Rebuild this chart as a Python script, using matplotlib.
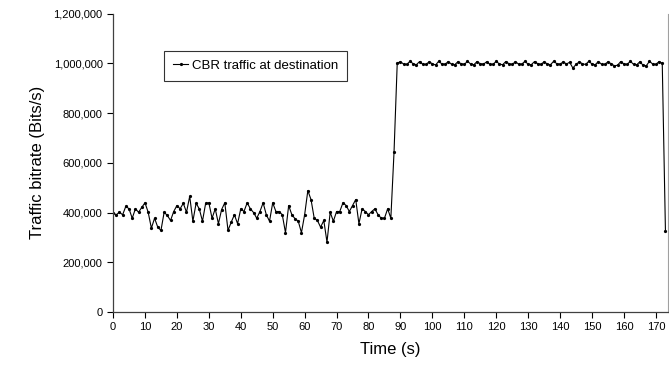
import matplotlib
matplotlib.use("Agg")
import matplotlib.pyplot as plt
from matplotlib.ticker import FuncFormatter

plt.rcParams['font.family'] = ['Liberation Sans', 'DejaVu Sans']

# CBR traffic bitrate at destination, kbit/s, one sample per second
low_phase = [399, 391, 401, 391, 425, 415, 377, 415, 401, 421,
             439, 401, 337, 377, 341, 328, 401, 388, 368, 404,
             428, 415, 437, 401, 465, 365, 437, 415, 365, 437,
             439, 377, 415, 355, 412, 439, 328, 361, 391, 355,
             415, 404, 439, 415, 400, 377, 404, 439, 391, 365,
             439, 404, 404, 391, 319, 428, 391, 375, 365, 319,
             391, 488, 452, 377, 368, 341, 368, 281, 401, 365,
             404, 404, 439, 428, 404, 428, 452, 355, 415, 404,
             391, 404, 415, 391, 377, 377, 415, 377]
ramp = [644]
high_phase = [1001, 1006, 997, 995, 1008, 998, 994, 1007, 996, 995,
              1006, 998, 993, 1008, 997, 996, 1007, 996, 994, 1006,
              998, 995, 1008, 997, 994, 1007, 998, 996, 1006, 996,
              995, 1008, 997, 994, 1007, 998, 995, 1006, 997, 996,
              1008, 996, 994, 1007, 998, 995, 1006, 997, 994, 1008,
              998, 996, 1006, 997, 1004, 981, 995, 1006, 998, 995,
              1008, 997, 994, 1007, 996, 995, 1006, 998, 990, 992,
              1007, 997, 995, 1008, 996, 994, 1006, 992, 990, 1008,
              997, 995, 1007, 1000]
tail = [325]

bitrate = [v * 1000 for v in low_phase + ramp + high_phase + tail]
time_s = list(range(len(bitrate)))

x_ticks = list(range(0, 171, 10))
y_ticks = [0, 200000, 400000, 600000, 800000, 1000000, 1200000]

fig = plt.figure(figsize=(6.69, 3.71), dpi=100)
ax = fig.add_axes([0.169, 0.159, 0.8295, 0.8046])

ax.plot(time_s, bitrate, color='black', lw=0.8, marker='o', ms=1.3,
        label='CBR traffic at destination')

ax.set_xlim(0, 173.8)
ax.set_ylim(0, 1200000)
ax.set_xticks(x_ticks)
ax.set_yticks(y_ticks)
ax.yaxis.set_major_formatter(FuncFormatter(lambda v, p: f"{v:,.0f}"))
ax.tick_params(labelsize=8, direction='out', length=4, width=0.8, colors='black')

ax.set_xlabel('Time (s)', fontsize=12, labelpad=7)
ax.set_ylabel('Traffic bitrate (Bits/s)', fontsize=12, labelpad=6)

ax.spines['top'].set_visible(False)
ax.spines['right'].set_color('#a0a0a0')
for s in ('left', 'bottom'):
    ax.spines[s].set_color('#404040')
    ax.spines[s].set_linewidth(0.9)

leg = ax.legend(loc='upper left', bbox_to_anchor=(0.092, 0.876), fontsize=9.5,
                frameon=True, fancybox=False, handlelength=1.1, handletextpad=0.3,
                borderpad=0.7, borderaxespad=0)
leg.get_frame().set_edgecolor('black')
leg.get_frame().set_linewidth(0.8)

fig.savefig('out.png', dpi=100)
